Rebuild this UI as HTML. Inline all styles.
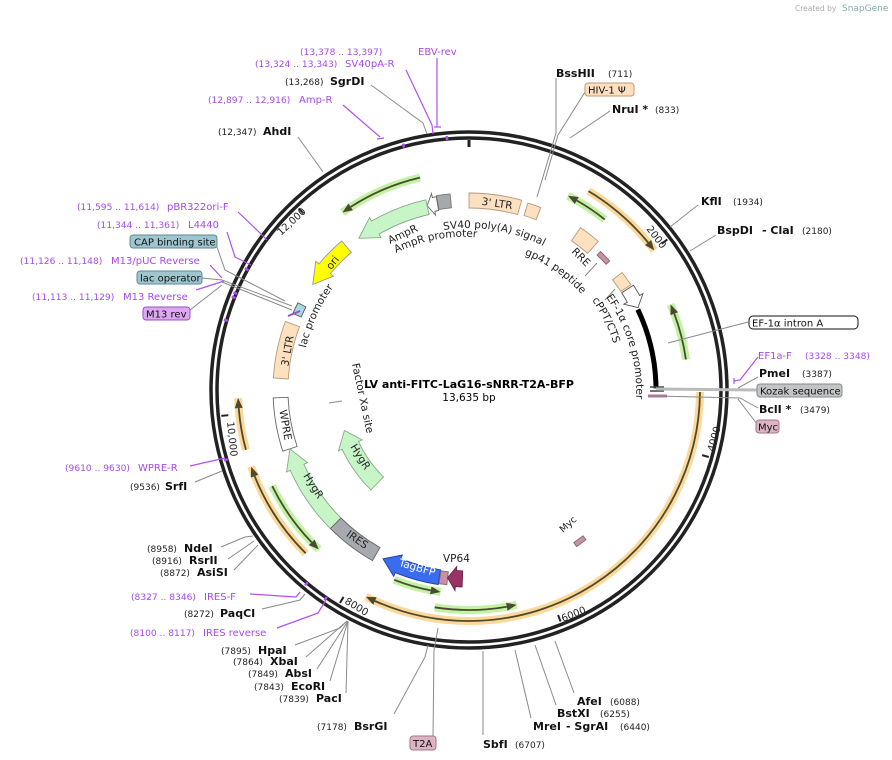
<!DOCTYPE html>
<html><head><meta charset="utf-8"><style>
html,body{margin:0;padding:0;background:#fff;}
svg{display:block;font-family:"DejaVu Sans","Liberation Sans",sans-serif;}
.e{font-weight:bold;font-size:11px;fill:#111}
.n{font-size:9px;fill:#222}
.p{font-size:10px;fill:#a64ae8}
.pn{font-size:9.1px;fill:#a64ae8}
.f{font-size:10.5px;fill:#222}
.ld{stroke:#8a8a8a;stroke-width:1;fill:none}
.lp{stroke:#b050f0;stroke-width:1.2;fill:none}
.t{font-size:10px;fill:#111}
.m{text-anchor:middle;dominant-baseline:central}
</style></head><body>
<svg id="s" width="892" height="760" viewBox="0 0 892 760" xmlns="http://www.w3.org/2000/svg">
<rect width="892" height="760" fill="#fff"/>
<text x="795" y="11" style="font-size:7.5px;fill:#aaa">Created by</text>
<text x="842" y="11" style="font-size:9px;fill:#8aa">SnapGene</text>
<g id="bg"></g>
<circle cx="469" cy="390" r="258" fill="none" stroke="#222" stroke-width="3.5"/>
<circle cx="469" cy="390" r="252" fill="none" stroke="#222" stroke-width="3.5"/>
<line x1="469" y1="140" x2="469" y2="147" stroke="#222" stroke-width="3"/>
<g id="fg"></g>

<text x="469" y="388" text-anchor="middle" style="font-weight:bold;font-size:11px">LV anti-FITC-LaG16-sNRR-T2A-BFP</text>
<text x="469" y="401" text-anchor="middle" style="font-size:10.5px">13,635 bp</text>

<g>
<polyline class="lp" points="437,58 437,127"/><line class="lp" x1="434" y1="127" x2="441" y2="127"/>
<polyline class="lp" points="406,70 432,125 433,134"/>
<polyline class="ld" points="371,85 423,123 427,134"/>
<polyline class="lp" points="343,105 380,137"/><line class="lp" x1="377" y1="139" x2="384" y2="138"/>
<polyline class="ld" points="298,137 323,172"/>
<polyline class="lp" points="238,212 260,233 267,240"/>
<polyline class="lp" points="227,232 235,257 251,265"/>
<polyline class="ld" points="217,247 225,270 285,301"/>
<polyline class="lp" points="210,265 222,278"/>
<polyline class="ld" points="202,278 222,280 292,306"/>
<polyline class="ld" points="222,282 292,310"/>
<polyline class="lp" points="196,290 224,281"/>
<polyline class="ld" points="190,310 222,285"/>
<polyline class="lp" points="190,466 225,458"/>
<polyline class="ld" points="195,482 222,471"/>
<polyline class="ld" points="221,547 245,537 253,536"/>
<polyline class="ld" points="228,559 254,541"/>
<polyline class="ld" points="234,570 258,545"/>
<polyline class="lp" points="250,594 296,597 300,592"/>
<polyline class="ld" points="262,609 300,600 305,594"/>
<polyline class="lp" points="277,628 318,613 326,600"/>
<polyline class="ld" points="295,645 340,628 347,621"/>
<polyline class="ld" points="306,657 347,621"/>
<polyline class="ld" points="317,669 348,621"/>
<polyline class="ld" points="330,681 348,621"/>
<polyline class="ld" points="346,693 348,621"/>
<polyline class="ld" points="394,714 425,657 428,645"/>
<polyline class="ld" points="433,737 434,650 438,628"/>
<polyline class="ld" points="483,735 483,651"/>
<polyline class="ld" points="574,693 555,641"/>
<polyline class="ld" points="556,705 535,645"/>
<polyline class="ld" points="531,718 515,650"/>
<polyline class="ld" points="556,78 556,133 537,197"/>
<polyline class="ld" points="585,92 558,135 545,180"/>
<polyline class="ld" points="610,111 570,138"/>
<polyline class="ld" points="698,205 670,227"/>
<polyline class="ld" points="716,235 690,251"/>
<polyline class="ld" points="748,322 668,343"/>
<polyline class="lp" points="758,357 740,380 734,381"/><line class="lp" x1="734" y1="378" x2="734" y2="384"/>
<polyline class="ld" points="758,377 738,388"/>
<line x1="656" y1="389" x2="757" y2="390" stroke="#bbb" stroke-width="3"/>
<polyline class="ld" points="758,408 740,398 656,396"/>
<polyline class="ld" points="757,424 738,399"/>
<polyline class="ld" points="585,276 597,263"/>
<polyline class="ld" points="605,300 615,289"/>
<line class="ld" x1="329" y1="403" x2="342" y2="401"/>
</g>

<g>
<text class="pn" x="300" y="55">(13,378 .. 13,397)</text><text class="p" x="418" y="55">EBV-rev</text>
<text class="pn" x="255" y="67">(13,324 .. 13,343)</text><text class="p" x="345" y="67">SV40pA-R</text>
<text class="n" x="285" y="85">(13,268)</text><text class="e" x="330" y="85">SgrDI</text>
<text class="pn" x="208" y="103">(12,897 .. 12,916)</text><text class="p" x="299" y="103">Amp-R</text>
<text class="n" x="218" y="135">(12,347)</text><text class="e" x="263" y="135">AhdI</text>
<text class="pn" x="77" y="210">(11,595 .. 11,614)</text><text class="p" x="167" y="210">pBR322ori-F</text>
<text class="pn" x="97" y="228">(11,344 .. 11,361)</text><text class="p" x="188" y="228">L4440</text>
<rect x="130" y="235" width="87" height="13" rx="3" fill="#9fc6cf" stroke="#5a8a96"/><text class="t" x="134" y="245.5">CAP binding site</text>
<text class="pn" x="20" y="264">(11,126 .. 11,148)</text><text class="p" x="111" y="264">M13/pUC Reverse</text>
<rect x="137" y="271" width="65" height="13" rx="3" fill="#9fc6cf" stroke="#5a8a96"/><text class="t" x="140" y="281.5">lac operator</text>
<text class="pn" x="32" y="300">(11,113 .. 11,129)</text><text class="p" x="123" y="300">M13 Reverse</text>
<rect x="143" y="307" width="47" height="13" rx="3" fill="#dca8f0" stroke="#9a50c0"/><text class="t" x="146" y="317.5">M13 rev</text>
<text class="pn" x="65" y="471">(9610 .. 9630)</text><text class="p" x="138" y="471">WPRE-R</text>
<text class="n" x="130" y="490">(9536)</text><text class="e" x="165" y="490">SrfI</text>
<text class="n" x="147" y="552">(8958)</text><text class="e" x="184" y="552">NdeI</text>
<text class="n" x="152" y="564">(8916)</text><text class="e" x="189" y="564">RsrII</text>
<text class="n" x="160" y="576">(8872)</text><text class="e" x="197" y="576">AsiSI</text>
<text class="pn" x="131" y="600">(8327 .. 8346)</text><text class="p" x="204" y="600">IRES-F</text>
<text class="n" x="184" y="617">(8272)</text><text class="e" x="220" y="617">PaqCI</text>
<text class="pn" x="130" y="636">(8100 .. 8117)</text><text class="p" x="203" y="636">IRES reverse</text>
<text class="n" x="221" y="654">(7895)</text><text class="e" x="258" y="654">HpaI</text>
<text class="n" x="233" y="665">(7864)</text><text class="e" x="270" y="665">XbaI</text>
<text class="n" x="248" y="677">(7849)</text><text class="e" x="285" y="677">AbsI</text>
<text class="n" x="254" y="690">(7843)</text><text class="e" x="291" y="690">EcoRI</text>
<text class="n" x="279" y="702">(7839)</text><text class="e" x="316" y="702">PacI</text>
<text class="n" x="317" y="730">(7178)</text><text class="e" x="354" y="730">BsrGI</text>
<rect x="410" y="736" width="26" height="14" rx="3" fill="#dcb4c4" stroke="#a07888"/><text class="t" x="413" y="747">T2A</text>
<text class="e" x="483" y="748">SbfI</text><text class="n" x="515" y="748">(6707)</text>
<text class="e" x="577" y="705">AfeI</text><text class="n" x="610" y="705">(6088)</text>
<text class="e" x="557" y="717">BstXI</text><text class="n" x="600" y="717">(6255)</text>
<text class="e" x="533" y="730">MreI</text><text class="e" x="566" y="730">- SgrAI</text><text class="n" x="620" y="730">(6440)</text>
<text class="e" x="556" y="77">BssHII</text><text class="n" x="608" y="77">(711)</text>
<rect x="585" y="83" width="49" height="13" rx="3" fill="#fde0c0" stroke="#c09a70"/><text class="t" x="588" y="93.5">HIV-1 Ψ</text>
<text class="e" x="612" y="113">NruI *</text><text class="n" x="655" y="113">(833)</text>
<text class="e" x="701" y="205">KflI</text><text class="n" x="733" y="205">(1934)</text>
<text class="e" x="717" y="234">BspDI</text><text class="e" x="762" y="234">- ClaI</text><text class="n" x="802" y="234">(2180)</text>
<rect x="749" y="316" width="109" height="13" rx="4" fill="#fff" stroke="#111"/><text class="t" x="752" y="326.5">EF-1α intron A</text>
<text class="p" x="758" y="359">EF1a-F</text><text class="pn" x="805" y="359">(3328 .. 3348)</text>
<text class="e" x="759" y="377">PmeI</text><text class="n" x="802" y="377">(3387)</text>
<rect x="757" y="384" width="85" height="13" rx="3" fill="#c2c4c6" stroke="#888"/><text class="t" x="760" y="394.5">Kozak sequence</text>
<text class="e" x="759" y="413">BclI *</text><text class="n" x="800" y="413">(3479)</text>
<rect x="756" y="420" width="23" height="13" rx="3" fill="#dcb4c4" stroke="#a07888"/><text class="t" x="758" y="430.5">Myc</text>
</g>

<defs>
<path id="a1" d="M 443.7 230 A 162 162 0 0 1 561.9 257.3"/>
<path id="a2" d="M 518.9 252.8 A 146 146 0 0 1 600 320"/>
<path id="a3" d="M 396 253 A 152 152 0 0 1 500 241"/>
<path id="a4" d="M 305 352 A 168 168 0 0 1 360 258"/>
<path id="a5" d="M 606 297 A 166 166 0 0 1 632 430"/>
<path id="a6" d="M 592 300 A 152 152 0 0 1 620 380"/>
</defs>
<text class="f"><textPath href="#a1">SV40 poly(A) signal</textPath></text>
<text class="f"><textPath href="#a2" startOffset="6">gp41 peptide</textPath></text>
<text class="f"><textPath href="#a3">AmpR promoter</textPath></text>
<text class="f"><textPath href="#a4" startOffset="4">lac promoter</textPath></text>
<text class="f"><textPath href="#a5">EF-1α core promoter</textPath></text>
<text class="f"><textPath href="#a6">cPPT/CTS</textPath></text>
<text class="f" transform="translate(390,244) rotate(-25)">AmpR</text>
<text class="f" transform="translate(571,252) rotate(45)">RRE</text>
<text class="f" transform="translate(352,364) rotate(78)">Factor Xa site</text>
<text class="f m" transform="translate(333,263) rotate(-52)">ori</text>
<text class="f m" transform="translate(497,204) rotate(8)">3' LTR</text>
<text class="f m" transform="translate(288,351) rotate(-80)">3' LTR</text>
<text class="f m" transform="translate(285,425) rotate(80)">WPRE</text>
<text class="f m" transform="translate(313,486) rotate(58)">HygR</text>
<text class="f m" transform="translate(360,457) rotate(58)">HygR</text>
<text class="f m" transform="translate(357,540) rotate(35)">IRES</text>
<text class="f m" transform="translate(417,568) rotate(16)" style="fill:#fff">TagBFP</text>
<text class="f" x="443" y="562">VP64</text>
<text class="f" transform="translate(563,533) rotate(-42)" style="font-size:9.5px">Myc</text>
<text class="n" style="font-size:10px" transform="translate(646,229) rotate(52.8)">2000</text>
<text class="n" style="font-size:10px" transform="translate(714,452) rotate(-75)">4000</text>
<text class="n" style="font-size:10px" transform="translate(563,622) rotate(-22)">6000</text>
<text class="n" style="font-size:10px" transform="translate(344,603) rotate(31)">8000</text>
<text class="n" style="font-size:10px" transform="translate(227,422) rotate(84)">10,000</text>
<text class="n" style="font-size:10px" transform="translate(281,236) rotate(-43)">12,000</text>
</svg>
<script>
(function(){
var NS="http://www.w3.org/2000/svg",CX=469,CY=390;
function P(r,t){t=t*Math.PI/180;return [CX+r*Math.sin(t),CY-r*Math.cos(t)];}
function s(p){return p[0].toFixed(1)+" "+p[1].toFixed(1);}
function A(r,a,b,sw){var l=Math.abs(b-a)>180?1:0;return " A"+r+" "+r+" 0 "+l+" "+sw+" "+s(P(r,b));}
function add(g,tag,at){var e=document.createElementNS(NS,tag);for(var k in at)e.setAttribute(k,at[k]);document.getElementById(g).appendChild(e);return e;}
function block(r0,r1,a,b,dir,h,fill,stroke){
  var m=(r0+r1)/2,d;
  if(!dir){d="M"+s(P(r1,a))+A(r1,a,b,1)+" L"+s(P(r0,b))+A(r0,b,a,0)+" Z";}
  else if(dir==1){var e=b-h;d="M"+s(P(r1,a))+A(r1,a,e,1)+" L"+s(P(r1+4,e))+" L"+s(P(m,b))+" L"+s(P(r0-4,e))+" L"+s(P(r0,e))+A(r0,e,a,0)+" Z";}
  else{var q=a+h;d="M"+s(P(r1,b))+A(r1,b,q,0)+" L"+s(P(r1+4,q))+" L"+s(P(m,a))+" L"+s(P(r0-4,q))+" L"+s(P(r0,q))+A(r0,q,b,1)+" Z";}
  add("fg","path",{d:d,fill:fill,stroke:stroke||"#888","stroke-width":0.9});
}
function thin(r,a,b,dir,glow){
  add("bg","path",{d:"M"+s(P(r,a))+A(r,a,b,1),fill:"none",stroke:glow,"stroke-width":8,"stroke-linecap":"butt"});
  var hd=10*57.3/r;
  var a2=a,b2=b,tip,base;
  if(dir==1){b2=b-hd;tip=b;base=b2;}else{a2=a+hd;tip=a;base=a2;}
  add("fg","path",{d:"M"+s(P(r,a2))+A(r,a2,b2,1),fill:"none",stroke:"#4a4a30","stroke-width":1.8});
  add("fg","path",{d:"M"+s(P(r,tip))+" L"+s(P(r+4,base))+" L"+s(P(r-4,base))+" Z",fill:"#4a4a30"});
}
var G="#c2f2a4",O="#fdd898";
thin(218,-35.5,-13,-1,G);
thin(232,31,53,1,O);
thin(218,27,38.5,-1,G);
thin(219,67,82,-1,G);
thin(231,90.5,206.5,1,O);
thin(220,167.5,189,-1,G);
thin(204,188,201.5,-1,G);
thin(231,225,250.6,1,O);
thin(219,223.3,244,-1,G);
thin(231,255,268,1,O);
var PE="#fde0c0",PS="#b89a78";
block(182,197,0,15.5,0,0,PE,PS);
block(183,196,17.5,21.5,0,0,PE,PS);
block(183,197,-9.5,-5.5,0,0,"#a6a9ad","#777");
block(182,196,-12.8,-9.6,-1,2,"#fff","#666");
block(180,195,-36,-12.8,-1,6,"#c8f5c8","#8a8");
block(181,196,-56,-40.5,-1,6,"#ffff00","#999");
block(181,197,34.5,41,0,0,PE,PS);
block(186,191,43.5,47.5,0,0,"#c890a8","#866");
block(181,193,52.5,57,0,0,PE,PS);
block(181,195,57.5,64,1,3,"#fff","#555");
add("fg","path",{d:"M"+s(P(187,64.5))+A(187,64.5,89.5,1),fill:"none",stroke:"#000","stroke-width":5});
add("fg","line",{x1:650,y1:387,x2:664,y2:387,stroke:"#444","stroke-width":1.5});
add("fg","line",{x1:650,y1:391,x2:664,y2:391,stroke:"#444","stroke-width":1.5});
add("fg","path",{d:"M648 396 L667 396",stroke:"#b07898","stroke-width":3});
block(181,196,273.5,290.5,0,0,PE,PS);
block(181,196,251.8,267.7,0,0,"#fff","#666");
block(181,196,225,251.8,1,6,"#c8f5c8","#8a8");
block(181,196,209.5,225,0,0,"#a6a9ad","#666");
block(182,197,189,207,1,5,"#3a6cf0","#2040a0");
block(183,196,186.5,188.8,0,0,"#c890a8","#866");
block(181,197,182,186.5,1,2.5,"#993366","#662244");
block(122,140,224.5,252,1,7,"#c8f5c8","#8a8");
block(185,190,142,145.5,0,0,"#c890a8","#866");
block(183,192,293.5,297,0,0,"#a6d8e8","#555");
add("fg","line",{x1:288,y1:316,x2:300,y2:311,stroke:"#9a50c0","stroke-width":2});
[2000,4000,6000,8000,10000,12000].forEach(function(v){var t=v/13635*360;var p1=P(249,t),p2=P(242,t);add("fg","line",{x1:p1[0],y1:p1[1],x2:p2[0],y2:p2[1],stroke:"#222","stroke-width":2});});
[[298.5,"#b050f0"],[286,"#b050f0"],[292.5,"#b050f0"],[291.5,"#b050f0"],[254,"#b050f0"],[220,"#b050f0"],[214.5,"#b050f0"],[-15,"#b050f0"],[-5,"#b050f0"]].forEach(function(x){var p1=P(251,x[0]),p2=P(255,x[0]);add("fg","line",{x1:p1[0],y1:p1[1],x2:p2[0],y2:p2[1],stroke:x[1],"stroke-width":2.5});});
})();
</script>
</body></html>
